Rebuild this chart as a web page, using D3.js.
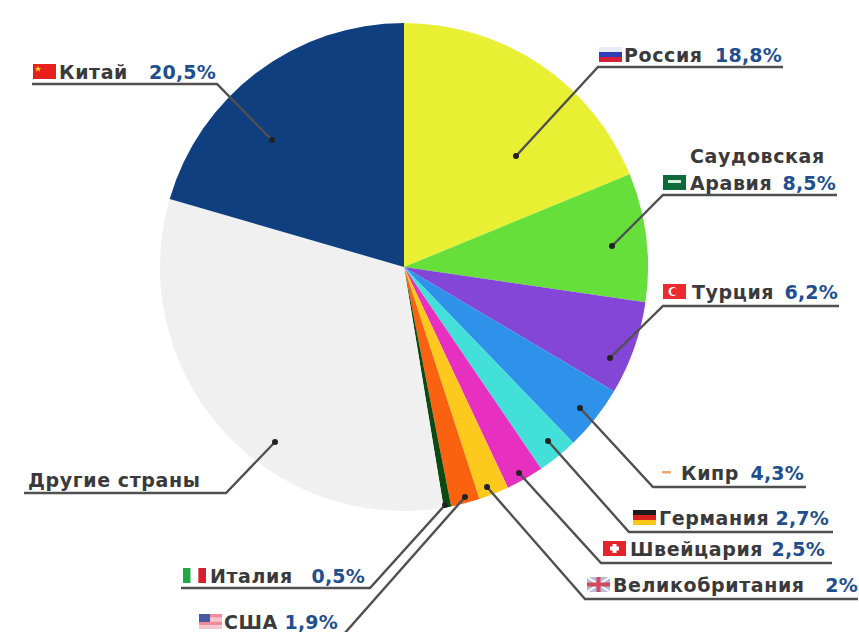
<!DOCTYPE html>
<html lang="ru">
<head>
<meta charset="utf-8">
<script src="https://cdn.jsdelivr.net/npm/d3@7"></script>
<style>
  html, body { margin: 0; background: #fff; }
  svg { display: block; }
  text { font-family: "DejaVu Sans", "Open Sans", sans-serif; font-weight: 700; font-size: 19px; }
  .name { letter-spacing: 0.6px; }
  .pct { letter-spacing: 0.2px; }
</style>
</head>
<body>
<svg id="chart" width="859" height="632"></svg>
<script>
// Shares of the partner countries, clockwise from twelve o'clock
const countries = ["Россия", "Саудовская Аравия", "Турция", "Кипр", "Германия", "Швейцария", "Великобритания", "США", "Италия", "Другие страны", "Китай"];
const shares = [18.8, 8.5, 6.2, 4.3, 2.7, 2.5, 2, 1.9, 0.5, 32.1, 20.5];
const shareLabels = ["18,8%", "8,5%", "6,2%", "4,3%", "2,7%", "2,5%", "2%", "1,9%", "0,5%", "", "20,5%"];
const sliceColors = ["#e9f033", "#66df3a", "#8446d6", "#2f92ea", "#42e0d8", "#e830c0", "#fdc91c", "#fb620f", "#0c4a12", "#f0f0f0", "#0f3f7f"];

// Leader geometry per country: dot, elbow end of the underline, far end of the underline
const leaders = [
  { dot: [516, 156], elbow: [598, 67], end: [783, 67] },
  { dot: [612, 246], elbow: [663, 195], end: [837, 195] },
  { dot: [610, 358], elbow: [663, 306], end: [839, 306] },
  { dot: [580, 408], elbow: [653, 487], end: [806, 487] },
  { dot: [548, 441], elbow: [629, 532], end: [833, 532] },
  { dot: [519, 473], elbow: [601, 563], end: [832, 563] },
  { dot: [487, 487], elbow: [585, 599], end: [858, 599] },
  { dot: [465, 497], elbow: [344, 634], end: [344, 634] },
  { dot: [445, 505], elbow: [370, 588], end: [181, 588] },
  { dot: [275, 442], elbow: [226, 493], end: [24, 493] },
  { dot: [272, 140], elbow: [217, 84], end: [32, 84] }
];

// Label placement: flag box left edge, name start, percentage right edge, baseline
const labelSpots = [
  { flag: 599, name: 624, pct: 782, y: 62 },
  { flag: 663, name: 690, pct: 836, y: 190 },
  { flag: 663, name: 692, pct: 838, y: 299 },
  { flag: 655, name: 681, pct: 804, y: 480 },
  { flag: 633, name: 659, pct: 829, y: 525 },
  { flag: 603, name: 630, pct: 825, y: 556 },
  { flag: 587, name: 613, pct: 858, y: 592 },
  { flag: 199, name: 224, pct: 338, y: 629 },
  { flag: 183, name: 210, pct: 365, y: 583 },
  { flag: null, name: 28, pct: null, y: 487 },
  { flag: 33, name: 59, pct: 216, y: 79 }
];

// Flags as stripes: [orientation, colours, emblem]
const flags = [
  ["h", ["#e8ecf8", "#2a3fb8", "#d5203a"], null],
  ["h", ["#0d6b3a"], "saudi"],
  ["h", ["#ee2a2f"], "crescent"],
  ["h", ["#ffffff"], "island"],
  ["h", ["#1c1c1c", "#d8201c", "#f8c814"], null],
  ["h", ["#e3242b"], "cross"],
  ["h", ["#b8bcdc"], "union"],
  ["h", ["#ee8c9c", "#f6c4cc", "#ee8c9c", "#f6c4cc"], "canton"],
  ["v", ["#1fa844", "#ffffff", "#d8202c"], null],
  null,
  ["h", ["#e8201c"], "star"]
];

const svg = d3.select("#chart");
const cx = 404, cy = 267, radius = 244;

const pie = d3.pie().sort(null).value(d => d.share);
const arc = d3.arc().innerRadius(0).outerRadius(radius);
const rows = countries.map((name, i) => ({
  name, share: shares[i], pct: shareLabels[i], color: sliceColors[i],
  leader: leaders[i], spot: labelSpots[i], flag: flags[i]
}));

svg.append("g").attr("transform", `translate(${cx},${cy})`)
  .selectAll("path").data(pie(rows)).join("path")
  .attr("d", arc)
  .attr("fill", d => d.data.color);

// Leaders: dot inside the slice, diagonal run, then the underline
const line = d3.line();
const leaderG = svg.append("g");
leaderG.selectAll("path").data(rows).join("path")
  .attr("d", d => line([d.leader.dot, d.leader.elbow, d.leader.end]))
  .attr("fill", "none").attr("stroke", "#505050").attr("stroke-width", 2.4);
leaderG.selectAll("circle").data(rows).join("circle")
  .attr("cx", d => d.leader.dot[0]).attr("cy", d => d.leader.dot[1]).attr("r", 3)
  .attr("fill", "#222");

// Small emblems drawn on top of the flag stripes
const flagW = 23, flagH = 15;
const emblems = {
  saudi: g => g.append("rect").attr("x", 5).attr("y", 5).attr("width", 13).attr("height", 3).attr("fill", "#d8efe0"),
  crescent: g => {
    g.append("circle").attr("cx", 10).attr("cy", 7.5).attr("r", 4.5).attr("fill", "#fff");
    g.append("circle").attr("cx", 11.5).attr("cy", 7.5).attr("r", 3.6).attr("fill", "#ee2a2f");
  },
  island: g => g.append("rect").attr("x", 7).attr("y", 6).attr("width", 9).attr("height", 2.5).attr("rx", 1).attr("fill", "#f0a860"),
  cross: g => {
    g.append("rect").attr("x", 9.5).attr("y", 3).attr("width", 4).attr("height", 9).attr("fill", "#fff");
    g.append("rect").attr("x", 7).attr("y", 5.5).attr("width", 9).attr("height", 4).attr("fill", "#fff");
  },
  union: g => {
    g.append("path").attr("d", d3.line()([[0, 0], [flagW, flagH]])).attr("stroke", "#fff").attr("stroke-width", 2);
    g.append("path").attr("d", d3.line()([[flagW, 0], [0, flagH]])).attr("stroke", "#fff").attr("stroke-width", 2);
    g.append("rect").attr("x", 9.5).attr("y", 0).attr("width", 4).attr("height", flagH).attr("fill", "#d04a5c");
    g.append("rect").attr("x", 0).attr("y", 5.5).attr("width", flagW).attr("height", 4).attr("fill", "#d04a5c");
  },
  canton: g => g.append("rect").attr("width", 11).attr("height", 8).attr("fill", "#4a5a9c"),
  star: g => g.append("path")
    .attr("d", d3.symbol(d3.symbolStar, 14)())
    .attr("transform", "translate(5,5)")
    .attr("fill", "#f6d820")
};

rows.filter(d => d.flag).forEach(d => {
  const [dir, cols, emblem] = d.flag;
  const g = svg.append("g").attr("transform", `translate(${d.spot.flag},${d.spot.y - flagH})`);
  const band = d3.scaleBand().domain(d3.range(cols.length)).range([0, dir === "h" ? flagH : flagW]);
  g.selectAll("rect").data(cols).join("rect")
    .attr("x", (c, i) => dir === "h" ? 0 : band(i))
    .attr("y", (c, i) => dir === "h" ? band(i) : 0)
    .attr("width", dir === "h" ? flagW : band.bandwidth())
    .attr("height", dir === "h" ? band.bandwidth() : flagH)
    .attr("fill", c => c);
  if (emblem) emblems[emblem](g);
});

// Names and percentages
svg.append("g").selectAll("text").data(rows).join("text")
  .attr("class", "name")
  .attr("x", d => d.spot.name).attr("y", d => d.spot.y)
  .attr("fill", "#3a3a3c")
  .text(d => d.name === "Саудовская Аравия" ? "Аравия" : d.name);
svg.append("text").attr("class", "name").attr("x", 690).attr("y", 163).attr("fill", "#3a3a3c").text("Саудовская");
svg.append("g").selectAll("text").data(rows.filter(d => d.pct)).join("text")
  .attr("class", "pct")
  .attr("x", d => d.spot.pct).attr("y", d => d.spot.y)
  .attr("text-anchor", "end").attr("fill", "#1f4f8f")
  .text(d => d.pct);
</script>
</body>
</html>
